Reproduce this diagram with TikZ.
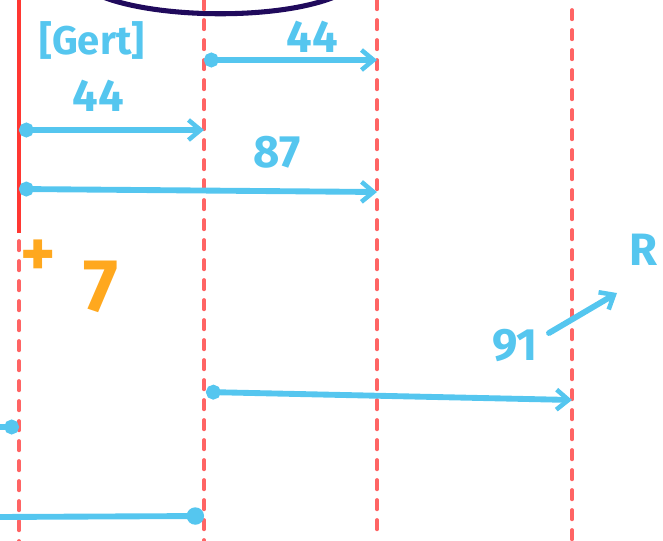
\documentclass[tikz,border=0pt]{standalone}
\usepackage{fontspec}
\setmainfont{Fira Sans}
\usetikzlibrary{arrows.meta}
\definecolor{penblue}{RGB}{85,198,239}
\definecolor{penred}{RGB}{255,55,50}
\definecolor{dashred}{RGB}{255,100,100}
\definecolor{pennavy}{RGB}{32,10,92}
\definecolor{penorange}{RGB}{255,168,30}

\tikzset{every picture/.style={line width=0.75pt},
  guide/.style={dashred, line width=2.8pt, line cap=round, dash pattern=on 7pt off 8pt},
  lenarrow/.style={penblue, line width=4.4pt, line cap=round,
    {Circle[length=11pt]}-{Straight Barb[length=9pt,width=15pt,line width=3.4pt]}},
  inkt/.style={text=penblue, font=\bfseries\fontsize{34}{36}\selectfont, inner sep=0pt},
  inko/.style={text=penorange, font=\bfseries\fontsize{56}{58}\selectfont, inner sep=0pt},
}

\begin{document}
\begin{tikzpicture}[x=0.75pt,y=0.75pt,yscale=-1,xscale=1]
\path[use as bounding box] (0,0) rectangle (663,541);
\clip (0,0) rectangle (663,541);

%Curve Lines (top arc)
\draw [pennavy, line width=3.8pt] (92,-8) .. controls (145,20) and (290,22) .. (345,-8) ;

%Solid red line
\draw [penred, line width=3.6pt] (19,-2) -- (19,233) ;
%Dashed guides
\draw [guide] (19,241) -- (19,541) ;
\draw [guide] (204,0) -- (204,541) ;
\draw [guide] (377,0) -- (377,536) ;
\draw [guide] (572,10) -- (572,541) ;

% Coordinates
\coordinate (topS) at (204,60);
\coordinate (topE) at (377,60);
\coordinate (midS) at (19,130);
\coordinate (midE) at (204,130);
\coordinate (lowS) at (19,189);
\coordinate (lowE) at (377,192);
\coordinate (farS) at (206,392);
\coordinate (farE) at (572,400);
\coordinate (stubS) at (-2,427);
\coordinate (stubE) at (19,427);
\coordinate (baseS) at (-2,517);
\coordinate (baseE) at (204,516);
\coordinate (rS) at (549,333);
\coordinate (rE) at (617,293);

%Straight Lines
\draw [lenarrow] (topS) -- (topE) ;
\draw [lenarrow] (midS) -- (midE) ;
\draw [lenarrow] (lowS) -- (lowE) ;
\draw [lenarrow] (farS) -- (farE) ;
\draw [lenarrow, arrows={-Circle[length=11pt]}] (stubS) -- (stubE) ;
\draw [lenarrow, arrows={-Circle[length=13pt]}] (baseS) -- (baseE) ;
\draw [lenarrow, arrows={-Straight Barb[length=9pt,width=15pt,line width=3.4pt]}] (rS) -- (rE) ;

% Text Node
\node [inkt, font=\bfseries\fontsize{30}{32}\selectfont] (cert) at (92,41) {[Gert]};
% Text Node
\node [inkt] (lenA) at (98,96) {44};
% Text Node
\node [inkt] (lenB) at (312,37) {44};
% Text Node
\node [inkt] (lenC) at (277,152) {87};
% Text Node
\node [inkt] (lenD) at (515,345) {91};
% Text Node
\node [inkt] (rlab) at (643,250) {R};
% Text Node
\node [inko, font=\bfseries\fontsize{50}{52}\selectfont] (plus) at (38,258) {+};
% Text Node
\node [inko] (seven) at (101,287) {7};

\end{tikzpicture}
\end{document}
